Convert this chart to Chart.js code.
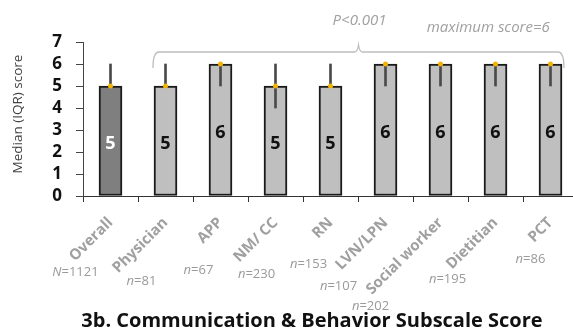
<!DOCTYPE html>
<html>
<head>
<meta charset="utf-8">
<script src="https://cdn.jsdelivr.net/npm/chart.js@4/dist/chart.umd.min.js"></script>
<style>
  html, body { margin: 0; padding: 0; background: #fff; overflow: hidden; }
  #wrap { width: 600px; height: 333px; }
</style>
</head>
<body>
<div id="wrap"><canvas id="c" width="600" height="333"></canvas></div>
<script>
// Communication & Behavior subscale: median and IQR by role
const categories = ['Overall', 'Physician', 'APP', 'NM/ CC', 'RN', 'LVN/LPN', 'Social worker', 'Dietitian', 'PCT'];
const medians = [5, 5, 6, 5, 5, 6, 6, 6, 6];
const q1 = [5, 5, 5, 4, 5, 5, 5, 5, 5];
const q3 = [6, 6, 6, 6, 6, 6, 6, 6, 6];
const samplePrefix = ['N', 'n', 'n', 'n', 'n', 'n', 'n', 'n', 'n'];
const sampleSizes = [1121, 81, 67, 230, 153, 107, 202, 195, 86];
const yTicks = [0, 1, 2, 3, 4, 5, 6, 7];

// styling
const barFill = categories.map((c, i) => i === 0 ? '#7f7f7f' : '#bfbfbf');
const valueColor = categories.map((c, i) => i === 0 ? '#ffffff' : '#111111');
// where each sample-size note sits: [dx from category centre, dy below axis]
const sampleNotePos = [[-35, 76], [-24, 85], [-22, 74], [-19, 78], [-22, 68], [-47, 90], [-70, 110], [-48, 83], [-20, 63]];

const FONT = "'Open Sans', 'DejaVu Sans', sans-serif";

const iqr = q1.map((v, i) => [v, q3[i]]);

const annotate = {
  id: 'annotate',
  afterDatasetsDraw(chart) {
    const ctx = chart.ctx;
    const barMeta = chart.getDatasetMeta(0);
    // median value inside each bar
    ctx.save();
    ctx.font = `bold 18px ${FONT}`;
    ctx.textAlign = 'center';
    ctx.textBaseline = 'middle';
    barMeta.data.forEach((el, i) => {
      ctx.fillStyle = valueColor[i];
      ctx.fillText(String(medians[i]), el.x, (el.y + el.base) / 2 + 3);
    });
    ctx.restore();
  },
  afterDraw(chart) {
    const ctx = chart.ctx;
    const xs = chart.scales.x;
    const area = chart.chartArea;
    const barMeta = chart.getDatasetMeta(0);

    // axis title
    ctx.save();
    ctx.translate(18, (area.top + area.bottom) / 2 - 5);
    ctx.rotate(-Math.PI / 2);
    ctx.font = `13.5px ${FONT}`;
    ctx.fillStyle = '#444';
    ctx.textAlign = 'center';
    ctx.textBaseline = 'middle';
    ctx.fillText('Median (IQR) score', 0, 0);
    ctx.restore();

    // sample size notes under the category labels
    ctx.save();
    ctx.fillStyle = '#9a9a9a';
    ctx.textBaseline = 'middle';
    categories.forEach((c, i) => {
      const cx = xs.getPixelForValue(i) + sampleNotePos[i][0];
      const cy = area.bottom + sampleNotePos[i][1];
      const pre = samplePrefix[i];
      const rest = '=' + sampleSizes[i];
      ctx.font = `italic 13px ${FONT}`;
      const w1 = ctx.measureText(pre).width;
      ctx.font = `13px ${FONT}`;
      const w2 = ctx.measureText(rest).width;
      const x0 = cx - (w1 + w2) / 2;
      ctx.textAlign = 'left';
      ctx.font = `italic 13px ${FONT}`;
      ctx.fillText(pre, x0, cy);
      ctx.font = `13px ${FONT}`;
      ctx.fillText(rest, x0 + w1, cy);
    });
    ctx.restore();

    // bracket over the role groups
    const first = barMeta.data[1];
    const last = barMeta.data[categories.length - 1];
    const left = first.x - first.width / 2 - 1;
    const right = last.x + last.width / 2 + 2;
    const yLine = area.top + 10;
    const mid = (left + right) / 2;
    const r = 6;
    ctx.save();
    ctx.strokeStyle = '#bdbdbd';
    ctx.lineWidth = 1.3;
    ctx.beginPath();
    ctx.moveTo(left, yLine + 16);
    ctx.quadraticCurveTo(left, yLine, left + r, yLine);
    ctx.lineTo(mid - 4, yLine);
    ctx.quadraticCurveTo(mid - 1, yLine, mid, yLine - 7);
    ctx.quadraticCurveTo(mid + 1, yLine, mid + 4, yLine);
    ctx.lineTo(right - r, yLine);
    ctx.quadraticCurveTo(right, yLine, right, yLine + 16);
    ctx.stroke();

    ctx.fillStyle = '#a0a0a0';
    ctx.textAlign = 'center';
    ctx.textBaseline = 'middle';
    ctx.font = `italic 15px ${FONT}`;
    ctx.fillText('P<0.001', mid + 1, yLine - 31);
    ctx.fillText('maximum score=6', (mid + right) / 2 + 27, yLine - 24);

    // chart title
    ctx.fillStyle = '#111';
    ctx.font = `bold 20px ${FONT}`;
    ctx.textBaseline = 'alphabetic';
    ctx.fillText('3b. Communication & Behavior Subscale Score', 312, 327);
    ctx.restore();
  }
};

new Chart(document.getElementById('c'), {
  data: {
    labels: categories,
    datasets: [
      {
        type: 'bar',
        data: medians,
        backgroundColor: barFill,
        borderColor: '#1a1a1a',
        borderWidth: 2,
        borderSkipped: false,
        barThickness: 23,
        grouped: false,
        order: 3
      },
      {
        type: 'bar',
        data: iqr,
        backgroundColor: '#4a4a4a',
        borderWidth: 0,
        barThickness: 2,
        grouped: false,
        order: 2
      },
      {
        type: 'line',
        data: medians,
        showLine: false,
        pointRadius: 2.5,
        pointBackgroundColor: '#f2b400',
        pointBorderWidth: 0,
        order: 1
      }
    ]
  },
  options: {
    responsive: false,
    animation: false,
    layout: { padding: { left: 0, right: 22, top: 42, bottom: 0 } },
    plugins: {
      legend: { display: false },
      tooltip: { enabled: false }
    },
    scales: {
      x: {
        type: 'category',
        offset: true,
        afterFit(scale) { scale.height = 137; },
        grid: {
          display: true,
          offset: true,
          drawOnChartArea: false,
          tickLength: 6,
          color: '#333'
        },
        border: { display: true, color: '#333', width: 1 },
        ticks: {
          autoSkip: false,
          minRotation: 45,
          maxRotation: 45,
          padding: 12,
          color: '#a0a0a0',
          font: { family: FONT, size: 15, weight: 'bold' }
        }
      },
      y: {
        min: 0,
        max: 7,
        afterFit(scale) { scale.width = 83; },
        afterBuildTicks(scale) { scale.ticks = yTicks.map(v => ({ value: v })); },
        grid: {
          display: true,
          drawOnChartArea: false,
          tickLength: 7,
          color: '#444'
        },
        border: { display: true, color: '#444', width: 1 },
        ticks: {
          autoSkip: false,
          padding: 14,
          color: '#111',
          font: { family: FONT, size: 17, weight: 'bold' }
        }
      }
    }
  },
  plugins: [annotate]
});
</script>
</body>
</html>
